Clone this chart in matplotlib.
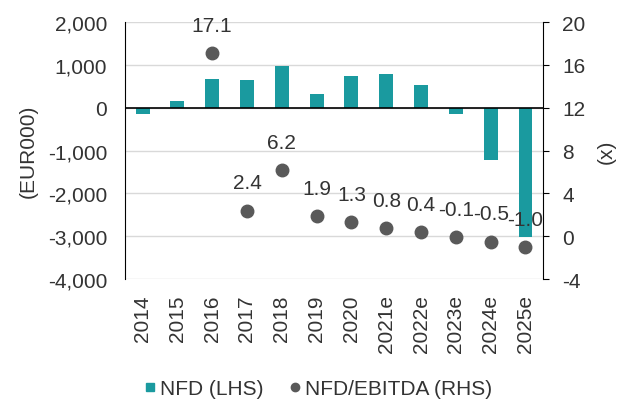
import matplotlib.pyplot as plt
import numpy as np
from matplotlib.lines import Line2D

plt.rcParams["font.family"] = ["Liberation Sans", "DejaVu Sans"]
plt.rcParams["font.size"] = 15
plt.rcParams["axes.unicode_minus"] = False

years = ["2014", "2015", "2016", "2017", "2018", "2019", "2020",
         "2021e", "2022e", "2023e", "2024e", "2025e"]
nfd = [-150, 160, 680, 640, 980, 330, 750, 790, 540, -140, -1210, -3010]
ratio_years = ["2016", "2017", "2018", "2019", "2020",
               "2021e", "2022e", "2023e", "2024e", "2025e"]
ratio = [17.1, 2.4, 6.2, 1.9, 1.3, 0.8, 0.4, -0.1, -0.5, -1.0]

TEAL = "#1a9a9f"
DOT = "#595959"
TXT = "#333333"

fig = plt.figure(figsize=(6.32, 4.06), dpi=100)
ax = fig.add_axes([0.198, 0.31, 0.661, 0.633])
x = np.arange(len(years))

ax.set_ylim(-4000, 2000)
ax.set_yticks(np.arange(-4000, 2001, 1000))
ax.set_yticklabels([f"{v:,}" for v in range(-4000, 2001, 1000)])
ax.grid(axis="y", color="#d9d9d9", linewidth=1)
ax.set_axisbelow(True)
ax.bar(x, nfd, width=0.4, color=TEAL, zorder=2)
ax.axhline(0, color="black", linewidth=1.2, zorder=3)
ax.set_xlim(-0.5, len(years) - 0.5)
ax.set_xticks(x)
ax.set_xticklabels(years, rotation=90)
ax.tick_params(axis="both", length=0, colors=TXT, labelsize=15)
ax.tick_params(axis="y", pad=13)
ax.tick_params(axis="x", pad=11)
for s in ["top", "right", "bottom"]:
    ax.spines[s].set_visible(False)
ax.spines["left"].set_color("black")
ax.set_ylabel("(EUR000)", color=TXT, fontsize=15, labelpad=7)

ax2 = ax.twinx()
ax2.set_ylim(-4, 20)
ax2.set_yticks(np.arange(-4, 21, 4))
rx = [years.index(y) for y in ratio_years]
ax2.plot(rx, ratio, "o", color=DOT, markersize=9, zorder=4)
for xi, v in zip(rx, ratio):
    ax2.annotate(f"{v:.1f}", (xi, v), xytext=(0, 16), textcoords="offset points",
                 ha="center", va="baseline", color=TXT, fontsize=15)
for s in ["top", "left", "bottom"]:
    ax2.spines[s].set_visible(False)
ax2.spines["right"].set_color("black")
ax2.tick_params(axis="y", length=4, direction="out", colors=TXT, labelsize=15, pad=10)
ax2.tick_params(axis="y", color="black")
ax2.set_ylabel("(x)", color=TXT, fontsize=15, labelpad=8)

handles = [
    Line2D([], [], marker="s", linestyle="", color=TEAL, markersize=6),
    Line2D([], [], marker="o", linestyle="", color=DOT, markersize=6),
]
fig.legend(handles, ["NFD (LHS)", "NFD/EBITDA (RHS)"], loc="center",
           bbox_to_anchor=(0.5, 0.04), ncol=2, frameon=False, fontsize=15,
           handletextpad=0.0, columnspacing=1.0, labelcolor=TXT,
           handlelength=1.0)

fig.savefig("out.png", dpi=100)
